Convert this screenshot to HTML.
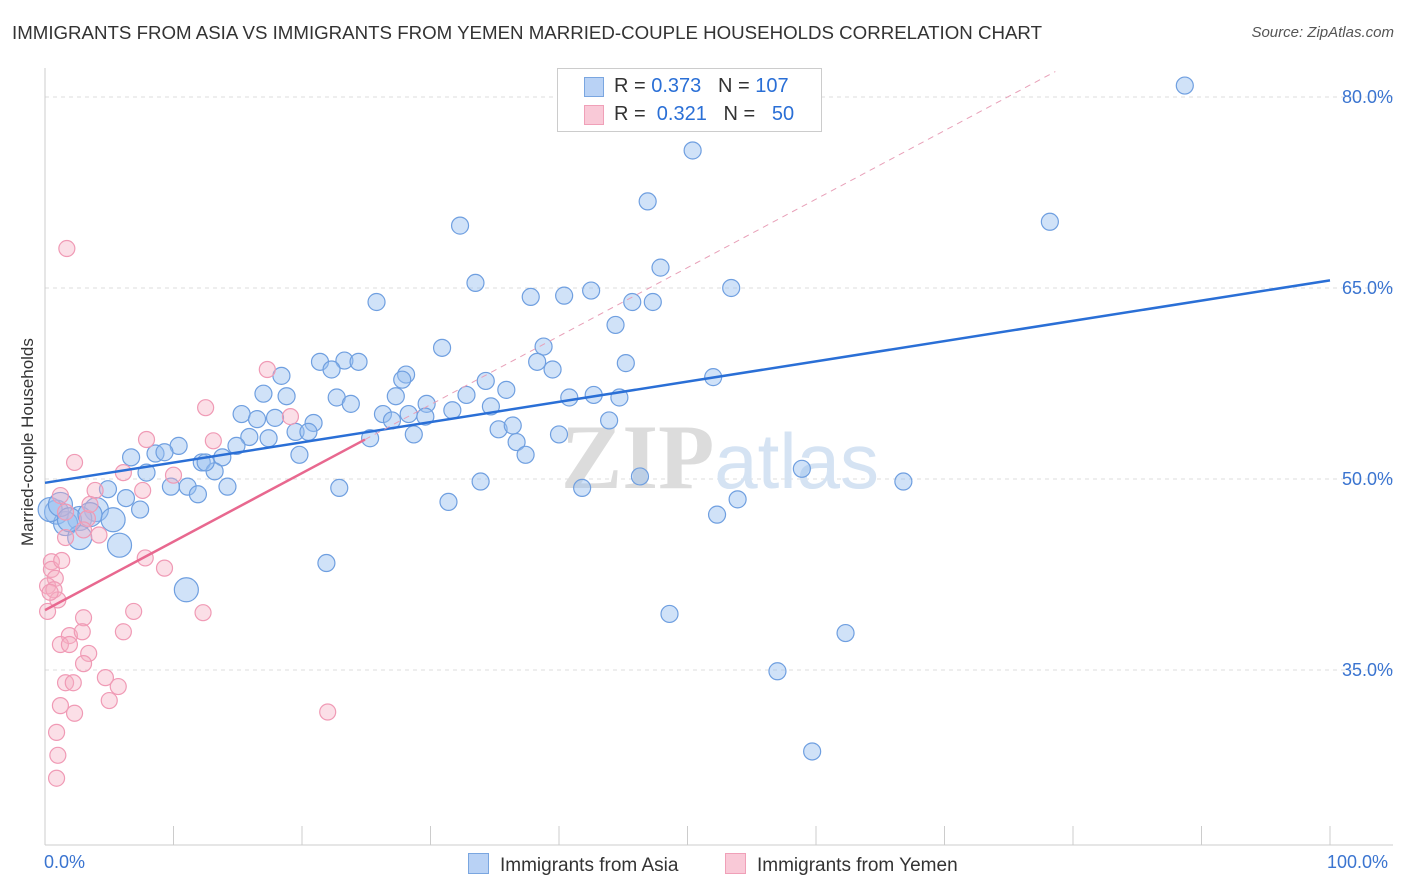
<!DOCTYPE html>
<html><head><meta charset="utf-8"><style>
body{margin:0;background:#fff;font-family:"Liberation Sans",sans-serif}
#wrap{position:relative;width:1406px;height:892px;overflow:hidden}
.t{position:absolute;white-space:nowrap}
</style></head><body>
<div id="wrap">
<div class="t" style="left:12px;top:22px;font-size:18.7px;color:#333">IMMIGRANTS FROM ASIA VS IMMIGRANTS FROM YEMEN MARRIED-COUPLE HOUSEHOLDS CORRELATION CHART</div>
<div class="t" style="right:12px;top:24px;font-size:15px;color:#555;font-style:italic">Source: ZipAtlas.com</div>
<div class="t" style="left:-62px;top:446px;font-size:17px;color:#333;transform:rotate(-90deg);transform-origin:center;width:180px;text-align:center">Married-couple Households</div>
<svg id="svg" width="1406" height="892" style="position:absolute;left:0;top:0"></svg>
</div>
<script>
const asiaX=[88.7,50.4,46.9,32.3,78.2,47.9,33.5,53.4,37.8,40.4,42.5,25.8,45.7,47.3,44.4,30.9,38.8,21.4,23.3,24.4,22.3,38.3,45.2,39.5,18.4,28.1,27.8,34.3,35.9,52.0,17.0,18.8,32.8,22.7,23.8,27.3,29.7,15.3,26.3,28.3,29.6,31.7,34.7,40.8,42.7,44.7,16.5,17.9,20.9,27.0,43.9,35.3,36.4,19.5,20.5,15.9,14.9,17.4,25.3,28.7,36.7,40.0,10.4,6.7,8.6,9.3,13.8,12.2,37.4,7.9,13.2,11.1,9.8,11.9,14.2,22.9,33.9,46.3,58.9,66.8,4.9,6.3,41.8,31.4,53.9,7.4,52.3,4.0,0.9,2.7,5.3,1.6,2.7,5.8,11.0,21.9,48.6,62.3,57.0,59.7,0.4,1.2,1.9,3.5,12.5,19.8];
const asiaY=[80.9,75.8,71.8,69.9,70.2,66.6,65.4,65.0,64.3,64.4,64.8,63.9,63.9,63.9,62.1,60.3,60.4,59.2,59.3,59.2,58.6,59.2,59.1,58.6,58.1,58.2,57.8,57.7,57.0,58.0,56.7,56.5,56.6,56.4,55.9,56.5,55.9,55.1,55.1,55.1,54.9,55.4,55.7,56.4,56.6,56.4,54.7,54.8,54.4,54.6,54.6,53.9,54.2,53.7,53.7,53.3,52.6,53.2,53.2,53.5,52.9,53.5,52.6,51.7,52.0,52.1,51.7,51.3,51.9,50.5,50.6,49.4,49.4,48.8,49.4,49.3,49.8,50.2,50.8,49.8,49.2,48.5,49.3,48.2,48.4,47.6,47.2,47.6,47.4,46.9,46.8,46.5,45.4,44.8,41.3,43.4,39.4,37.9,34.9,28.6,47.6,48.0,46.8,47.2,51.3,51.9];
const asiaBig=[0,0,0,0,0,0,0,0,0,0,0,0,0,0,0,0,0,0,0,0,0,0,0,0,0,0,0,0,0,0,0,0,0,0,0,0,0,0,0,0,0,0,0,0,0,0,0,0,0,0,0,0,0,0,0,0,0,0,0,0,0,0,0,0,0,0,0,0,0,0,0,0,0,0,0,0,0,0,0,0,0,0,0,0,0,0,0,1,1,1,1,1,1,1,1,0,0,0,0,0,1,1,1,1,0,0];
const yemX=[1.7,17.3,12.5,19.1,7.9,13.1,2.3,10.0,6.1,3.9,7.6,1.2,1.6,3.3,3.0,1.6,4.2,0.5,0.5,0.8,0.2,0.7,1.0,0.2,7.8,9.3,6.9,12.3,3.0,1.9,2.9,1.2,1.9,3.4,3.0,4.7,1.6,2.2,5.7,1.2,2.3,5.0,22.0,0.9,1.0,0.9,0.4,1.3,6.1,3.5];
const yemY=[68.1,58.6,55.6,54.9,53.1,53.0,51.3,50.3,50.5,49.1,49.1,48.7,47.4,46.9,46.0,45.4,45.6,43.5,42.9,42.2,41.6,41.3,40.5,39.6,43.8,43.0,39.6,39.5,39.1,37.7,38.0,37.0,37.0,36.3,35.5,34.4,34.0,34.0,33.7,32.2,31.6,32.6,31.7,30.1,28.3,26.5,41.1,43.6,38.0,48.0];
const asiaFit=[49.7,0.159];
const yemFit=[39.7,0.538];
const yTicks=[35,50,65,80];
const xTicks=[0,10,20,30,40,50,60,70,80,90,100];

const X=v=>45+v*12.85, Y=v=>97+(80-v)*12.733;
const NS='http://www.w3.org/2000/svg', svg=document.getElementById('svg');
function mk(tag,a,parent){const e=document.createElementNS(NS,tag);for(const k in a)e.setAttribute(k,a[k]);(parent||svg).appendChild(e);return e;}
yTicks.forEach(v=>{
 const g=mk('line',{x1:45,x2:1393,y1:Y(v),y2:Y(v),stroke:'#ddd','stroke-dasharray':'4,4'});
 
 
 const t=mk('text',{x:1393,y:Y(v)+6,'text-anchor':'end','font-size':18,fill:'#3a74d0','font-family':'Liberation Sans'});
 t.textContent=v.toFixed(1)+'%';
 
 
});
let ax=mk('line',{x1:45,x2:45,y1:68,y2:845,stroke:'#ccc'});


ax=mk('line',{x1:45,x2:1393,y1:845,y2:845,stroke:'#ccc'});


xTicks.forEach(v=>{const l=mk('line',{x1:X(v),x2:X(v),y1:826,y2:845,stroke:'#ccc'});
 
 });
let wm=mk('text',{x:720,y:488,'text-anchor':'middle','font-size':92,fill:'#e4e4e4','font-family':'Liberation Serif'});
wm.innerHTML='<tspan fill="#dcdcdc" font-weight="bold">ZIP</tspan><tspan fill="#d5e3f3" font-family="Liberation Sans" font-size="78">atlas</tspan>';


asiaX.forEach((x,i)=>{const c=mk('circle',{cx:X(x),cy:Y(asiaY[i]),r:asiaBig[i]?12:8.5,fill:'rgba(150,190,240,0.45)',stroke:'#6f9fe0','stroke-width':1.2});
 
 });
yemX.forEach((x,i)=>{const c=mk('circle',{cx:X(x),cy:Y(yemY[i]),r:8,fill:'rgba(245,175,195,0.4)',stroke:'#f09ab5','stroke-width':1.2});
 
 });
let ln=mk('line',{x1:X(0),y1:Y(asiaFit[0]),x2:X(100),y2:Y(asiaFit[0]+100*asiaFit[1]),stroke:'#2a6fd6','stroke-width':2.5});


const xe=(82-yemFit[0])/yemFit[1];
ln=mk('line',{x1:X(24.9),y1:Y(yemFit[0]+24.9*yemFit[1]),x2:X(xe),y2:Y(82),stroke:'#e8a0b8','stroke-width':1,'stroke-dasharray':'6,5'});


ln=mk('line',{x1:X(0),y1:Y(yemFit[0]),x2:X(24.9),y2:Y(yemFit[0]+24.9*yemFit[1]),stroke:'#e8688f','stroke-width':2.5});


</script>
<div style="position:absolute;left:557px;top:68px;width:263px;height:62px;border:1px solid #ccc;background:#fff;font-size:20px;color:#333">
<div style="position:absolute;left:26px;top:8px;width:18px;height:18px;background:#b9d2f5;border:1px solid #7aa6e0"></div>
<div class="t" style="left:56px;top:6px">R = <span style="color:#2a6fd6">0.373</span>&nbsp;&nbsp;&nbsp;N = <span style="color:#2a6fd6">107</span></div>
<div style="position:absolute;left:26px;top:36px;width:18px;height:18px;background:#f9c9d7;border:1px solid #f0a0b8"></div>
<div class="t" style="left:56px;top:34px">R = &nbsp;<span style="color:#2a6fd6">0.321</span>&nbsp;&nbsp;&nbsp;N = &nbsp;&nbsp;<span style="color:#2a6fd6">50</span></div>
</div>
<div class="t" style="left:44px;top:852px;font-size:18px;color:#3a74d0">0.0%</div>
<div class="t" style="left:1327px;top:852px;font-size:18px;color:#3a74d0">100.0%</div>
<div style="position:absolute;left:468px;top:853px;font-size:19px;color:#333"><span style="display:inline-block;width:19px;height:19px;background:#b9d2f5;border:1px solid #7aa6e0;vertical-align:-3px;margin-right:11px"></span>Immigrants from Asia</div>
<div style="position:absolute;left:725px;top:853px;font-size:19px;color:#333"><span style="display:inline-block;width:19px;height:19px;background:#f9c9d7;border:1px solid #f0a0b8;vertical-align:-3px;margin-right:11px"></span>Immigrants from Yemen</div>
</body></html>
